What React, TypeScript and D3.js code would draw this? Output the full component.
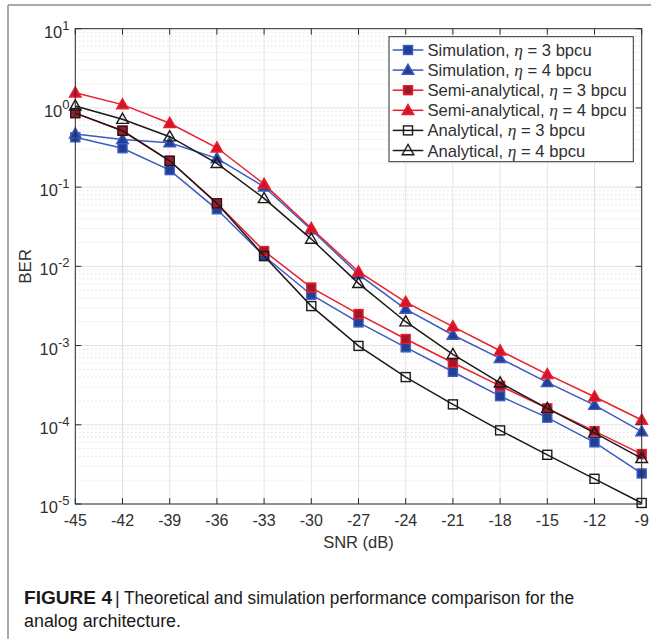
import React from "react";
import * as d3 from "d3";

const snr = [-45, -42, -39, -36, -33, -30, -27, -24, -21, -18, -15, -12, -9];
const simEta3 = [0.425, 0.31, 0.164, 0.0525, 0.0135, 0.00438, 0.00196, 0.00095, 0.000467, 0.00023, 0.000123, 6.0e-5, 2.43e-5];
const simEta4 = [0.47, 0.4, 0.364, 0.231, 0.101, 0.029, 0.0079, 0.00289, 0.00136, 0.00069, 0.000343, 0.000177, 8.2e-5];
const semiEta3 = [0.86, 0.515, 0.215, 0.0624, 0.0156, 0.0054, 0.0025, 0.00121, 0.000607, 0.00031, 0.000161, 8.3e-5, 4.27e-5];
const semiEta4 = [1.55, 1.1, 0.64, 0.314, 0.109, 0.0302, 0.00855, 0.00354, 0.00173, 0.00086, 0.000433, 0.000226, 0.000115];
const anaEta3 = [0.86, 0.515, 0.215, 0.0624, 0.0135, 0.00315, 0.00099, 0.0004, 0.000181, 8.5e-5, 4.18e-5, 2.08e-5, 1.03e-5];
const anaEta4 = [1.06, 0.72, 0.433, 0.2, 0.072, 0.0221, 0.0061, 0.002, 0.000774, 0.000339, 0.000161, 7.9e-5, 3.77e-5];

const xTicks = [-45, -42, -39, -36, -33, -30, -27, -24, -21, -18, -15, -12, -9];
const yExponents = [1, 0, -1, -2, -3, -4, -5];

type Series = {
  label: string;
  eta: string;
  values: number[];
  line: string;
  marker: "square" | "triangle";
  fill: string;
  stroke: string;
};

const series: Series[] = [
  { label: "Simulation, ", eta: "3", values: simEta3, line: "#3a5bc0", marker: "square", fill: "#223f95", stroke: "#3a5bc0" },
  { label: "Simulation, ", eta: "4", values: simEta4, line: "#3a5bc0", marker: "triangle", fill: "#223f95", stroke: "#3a5bc0" },
  { label: "Semi-analytical, ", eta: "3", values: semiEta3, line: "#e8202c", marker: "square", fill: "#a3172c", stroke: "#e8202c" },
  { label: "Semi-analytical, ", eta: "4", values: semiEta4, line: "#e8202c", marker: "triangle", fill: "#d4132a", stroke: "#e8202c" },
  { label: "Analytical, ", eta: "3", values: anaEta3, line: "#1a1a1a", marker: "square", fill: "none", stroke: "#1a1a1a" },
  { label: "Analytical, ", eta: "4", values: anaEta4, line: "#1a1a1a", marker: "triangle", fill: "none", stroke: "#1a1a1a" },
];

const L = 75.3, R = 641.7, T = 28.7, B = 504;
const axisColor = "#2e2e2e";
const textColor = "#303030";
const sans = "'Liberation Sans', Arial, Helvetica, sans-serif";

function Marker({ kind, x, y, fill, stroke }: { kind: string; x: number; y: number; fill: string; stroke: string }) {
  if (kind === "square") {
    return <rect x={x - 4.5} y={y - 4.5} width={9} height={9} fill={fill} stroke={stroke} strokeWidth={1.4} />;
  }
  const pts = `${x},${y - 6} ${x - 5.8},${y + 4.2} ${x + 5.8},${y + 4.2}`;
  return <polygon points={pts} fill={fill} stroke={stroke} strokeWidth={1.4} strokeLinejoin="miter" />;
}

export default function App() {
  const x = d3.scaleLinear().domain([-45, -9]).range([L, R]);
  const y = d3.scaleLog().domain([1e-5, 1e1]).range([B, T]);

  const minorY: number[] = [];
  for (let e = -5; e < 1; e++) {
    for (let m = 2; m <= 9; m++) minorY.push(m * Math.pow(10, e));
  }

  const lineGen = d3
    .line<number>()
    .x((_, i) => x(snr[i]))
    .y((v) => y(v));

  const legX = 389, legY = 36.7, legW = 244.3, legH = 125;
  const rowY = (i: number) => legY + 13.3 + i * 20.1;

  return (
    <svg width={651} height={639} style={{ position: "absolute", left: 0, top: 0, background: "#fff" }}>
      {/* page frame */}
      <line x1={8} y1={5} x2={651} y2={5} stroke="#8c8c8c" strokeWidth={1.5} />
      <line x1={8} y1={5} x2={8} y2={639} stroke="#8c8c8c" strokeWidth={1.5} />

      {/* minor grid */}
      {minorY.map((v, i) => (
        <line key={"my" + i} x1={L} x2={R} y1={y(v)} y2={y(v)} stroke="#c8c8c8" strokeWidth={0.8} strokeDasharray="1 3" />
      ))}
      {/* major grid */}
      {xTicks.map((t) => (
        <line key={"gx" + t} x1={x(t)} x2={x(t)} y1={T} y2={B} stroke="#e3e3e3" strokeWidth={1} />
      ))}
      {yExponents.map((e) => (
        <line key={"gy" + e} x1={L} x2={R} y1={y(Math.pow(10, e))} y2={y(Math.pow(10, e))} stroke="#e3e3e3" strokeWidth={1} />
      ))}

      {/* series */}
      {series.map((s, si) => (
        <g key={"s" + si}>
          <path d={lineGen(s.values) || ""} fill="none" stroke={s.line} strokeWidth={1.5} />
          {s.values.map((v, i) => (
            <Marker key={i} kind={s.marker} x={x(snr[i])} y={y(v)} fill={s.fill} stroke={s.stroke} />
          ))}
        </g>
      ))}

      {/* axes box */}
      <rect x={L} y={T} width={R - L} height={B - T} fill="none" stroke={axisColor} strokeWidth={1} />
      {xTicks.map((t) => (
        <g key={"tx" + t}>
          <line x1={x(t)} x2={x(t)} y1={B} y2={B - 6} stroke={axisColor} />
          <line x1={x(t)} x2={x(t)} y1={T} y2={T + 6} stroke={axisColor} />
          <text x={x(t)} y={B + 22} textAnchor="middle" fontFamily={sans} fontSize={16} fill={textColor}>
            {t}
          </text>
        </g>
      ))}
      {yExponents.map((e) => {
        const yy = y(Math.pow(10, e));
        return (
          <g key={"ty" + e}>
            <line x1={L} x2={L + 6} y1={yy} y2={yy} stroke={axisColor} />
            <line x1={R} x2={R - 6} y1={yy} y2={yy} stroke={axisColor} />
            <text x={69.5} y={yy + 9} textAnchor="end" fontFamily={sans} fontSize={16.5} fill={textColor}>
              10
              <tspan fontSize={13} dy={-8}>
                {e}
              </tspan>
            </text>
          </g>
        );
      })}

      {/* axis labels */}
      <text x={(L + R) / 2} y={548} textAnchor="middle" fontFamily={sans} fontSize={16.5} fill={textColor}>
        SNR (dB)
      </text>
      <text
        transform={`translate(31, ${(T + B) / 2}) rotate(-90)`}
        textAnchor="middle"
        fontFamily={sans}
        fontSize={17}
        fill={textColor}
      >
        BER
      </text>

      {/* legend */}
      <rect x={legX} y={legY} width={legW} height={legH} fill="#fff" stroke={axisColor} strokeWidth={1} />
      {series.map((s, i) => (
        <g key={"lg" + i}>
          <line x1={392.7} x2={423.3} y1={rowY(i)} y2={rowY(i)} stroke={s.line} strokeWidth={1.5} />
          <Marker kind={s.marker} x={408} y={rowY(i)} fill={s.fill} stroke={s.stroke} />
          <text x={427.5} y={rowY(i) + 6} fontFamily={sans} fontSize={16.6} fill={textColor}>
            {s.label}
            <tspan fontFamily="'Liberation Serif', 'Times New Roman', serif" fontStyle="italic" fontSize={17.5}>
              η
            </tspan>
            {` = ${s.eta} bpcu`}
          </text>
        </g>
      ))}

      {/* caption */}
      <text x={24} y={604} fontFamily={sans} fontSize={18} fill="#1a1a1a" fontWeight="bold" textLength={88} lengthAdjust="spacingAndGlyphs">
        FIGURE 4
      </text>
      <text x={115} y={604} fontFamily={sans} fontSize={18} fill="#1a1a1a">
        |
      </text>
      <text x={124} y={604} fontFamily={sans} fontSize={18} fill="#1a1a1a" textLength={450} lengthAdjust="spacingAndGlyphs">
        Theoretical and simulation performance comparison for the
      </text>
      <text x={24} y={627} fontFamily={sans} fontSize={18} fill="#1a1a1a" textLength={157} lengthAdjust="spacingAndGlyphs">
        analog architecture.
      </text>
    </svg>
  );
}
